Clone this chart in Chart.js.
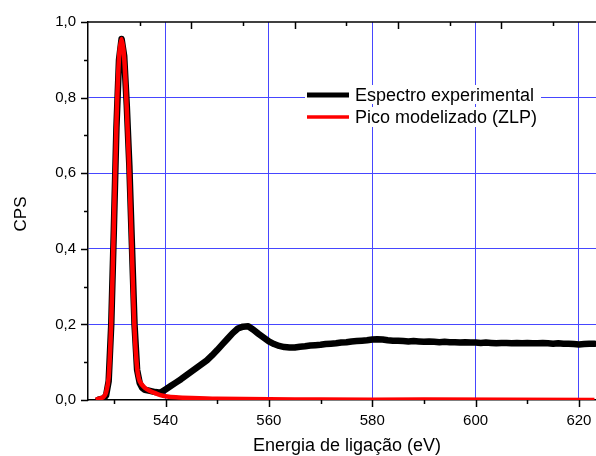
<!DOCTYPE html>
<html>
<head>
<meta charset="utf-8">
<script src="https://cdn.jsdelivr.net/npm/chart.js@4"></script>
<style>
  body { margin: 0; background: #fff; }
  #wrap { width: 596px; height: 456px; }
</style>
</head>
<body>
<div id="wrap"><canvas id="chart" width="596" height="456"></canvas></div>
<script>
// espectro experimental (eV, CPS)
let expEnergy = [527, 528, 528.5, 529, 529.5, 530, 530.5, 531, 531.5, 532, 532.5, 533, 533.5, 534, 534.5, 535, 535.5, 536, 537, 538, 539,
    540, 541, 542, 543, 544, 545, 546, 547, 548, 549, 550, 551, 552, 553, 554, 555, 556, 557, 558, 559,
    560, 561, 562, 563, 564, 565, 566, 567, 568, 569, 570, 571, 572, 573, 574, 575, 576, 577, 578, 579,
    580, 581, 582, 583, 584, 585, 586, 587, 588, 589, 590, 591, 592, 593, 594, 595, 596, 597, 598, 599,
    600, 601, 602, 603, 604, 605, 606, 607, 608, 609, 610, 611, 612, 613, 614, 615, 616, 617, 618, 619,
    620, 621, 622, 623];
let expCps = [0.001, 0.004, 0.012, 0.05, 0.20, 0.45, 0.72, 0.90, 0.955, 0.91, 0.78, 0.62, 0.41, 0.20, 0.08, 0.045, 0.032, 0.027, 0.024, 0.021, 0.019,
    0.028, 0.037, 0.046, 0.055, 0.065, 0.075, 0.085, 0.095, 0.105, 0.118, 0.132, 0.147, 0.162, 0.177, 0.189, 0.194, 0.195, 0.186, 0.175, 0.165,
    0.155, 0.148, 0.143, 0.140, 0.139, 0.139, 0.141, 0.142, 0.144, 0.145, 0.146, 0.148, 0.149, 0.150, 0.152, 0.153, 0.155, 0.156, 0.157, 0.158,
    0.160, 0.161, 0.160, 0.158, 0.157, 0.157, 0.156, 0.155, 0.156, 0.155, 0.154, 0.155, 0.154, 0.153, 0.154, 0.153, 0.153, 0.152, 0.153, 0.152,
    0.152, 0.151, 0.152, 0.151, 0.150, 0.151, 0.151, 0.150, 0.151, 0.150, 0.151, 0.150, 0.150, 0.151, 0.150, 0.149, 0.150, 0.149, 0.149, 0.148,
    0.147, 0.148, 0.149, 0.149];

// pico modelizado (ZLP)
let zlpEnergy = [526.5, 527, 528, 528.5, 529, 529.5, 530, 530.5, 531, 531.5, 532, 532.5, 533, 533.5, 534, 534.5, 535, 536, 537, 538, 539,
    540, 542, 545, 550, 560, 570, 590, 623];
let zlpCps = [0.001, 0.003, 0.008, 0.02, 0.06, 0.21, 0.46, 0.73, 0.905, 0.955, 0.905, 0.77, 0.60, 0.39, 0.19, 0.085, 0.05, 0.032, 0.024, 0.018, 0.013,
    0.010, 0.007, 0.005, 0.003, 0.002, 0.001, 0.001, 0];

let seriesLabels = ['Espectro experimental', 'Pico modelizado (ZLP)'];
let xTitle = 'Energia de ligação (eV)';
let yTitle = 'CPS';

Chart.defaults.font.family = 'Arial, "Liberation Sans", sans-serif';
Chart.defaults.color = '#000';

let gridBlue = '#4646ff';
let fontFam = 'Arial, "Liberation Sans", sans-serif';

function toPoints(xs, ys) {
    return xs.map(function (x, i) { return {x: x, y: ys[i]}; });
}

// ticks, top axis, legend and titles
let decor = {
    id: 'decor',
    afterDatasetsDraw: function (chart) {
        let c = chart.ctx, a = chart.chartArea;
        let sx = chart.scales.x, sy = chart.scales.y;
        c.save();
        c.strokeStyle = '#000';
        c.lineWidth = 1.5;
        c.beginPath();
        c.moveTo(a.left, a.top);
        c.lineTo(a.right, a.top);
        c.stroke();

        // y ticks (outward)
        for (let k = 0; k <= 10; k++) {
            let py = Math.round(sy.getPixelForValue(k / 10)) + 0.5;
            let len = k % 2 === 0 ? 7 : 4;
            c.beginPath();
            c.moveTo(a.left - len, py);
            c.lineTo(a.left, py);
            c.stroke();
        }
        // bottom ticks (outward)
        for (let v = 530; v <= 620; v += 10) {
            let px = Math.round(sx.getPixelForValue(v)) + 0.5;
            let len = v % 20 === 0 ? 7 : 4;
            c.beginPath();
            c.moveTo(px, a.bottom);
            c.lineTo(px, a.bottom + len);
            c.stroke();
        }
        // top ticks (inward, shifted by 5 eV)
        for (let v = 535; v <= 615; v += 10) {
            let px = Math.round(sx.getPixelForValue(v)) + 0.5;
            let len = (v - 5) % 20 === 0 ? 7 : 4;
            c.beginPath();
            c.moveTo(px, a.top);
            c.lineTo(px, a.top + len);
            c.stroke();
        }

        // legend
        c.fillStyle = '#fff';
        c.fillRect(305, 85, 236, 19);
        c.fillRect(305, 107, 250, 20);
        let ds = chart.data.datasets;
        let rows = [95, 117];
        c.font = '18px ' + fontFam;
        c.textBaseline = 'middle';
        c.textAlign = 'left';
        ds.forEach(function (d, i) {
            c.strokeStyle = d.borderColor;
            c.lineWidth = i === 0 ? 5 : 3.5;
            c.beginPath();
            c.moveTo(307, rows[i]);
            c.lineTo(349, rows[i]);
            c.stroke();
            c.fillStyle = '#000';
            c.fillText(d.label, 355, rows[i] + 1);
        });

        // axis titles
        c.font = '18px ' + fontFam;
        c.textAlign = 'center';
        c.fillText(xTitle, 347, 446);
        c.save();
        c.translate(21, 214);
        c.rotate(-Math.PI / 2);
        c.font = '17px ' + fontFam;
        c.fillText(yTitle, 0, 0);
        c.restore();
        c.restore();
    }
};

let ctx = document.getElementById('chart').getContext('2d');

new Chart(ctx, {
    type: 'line',
    data: {
        datasets: [
            {
                label: seriesLabels[0],
                data: toPoints(expEnergy, expCps),
                borderColor: '#000000',
                borderWidth: 6.5,
                pointRadius: 0,
                tension: 0,
                order: 1,
                borderJoinStyle: 'round',
                borderCapStyle: 'round'
            },
            {
                label: seriesLabels[1],
                data: toPoints(zlpEnergy, zlpCps),
                borderColor: '#ff0000',
                borderWidth: 4.5,
                pointRadius: 0,
                tension: 0.3,
                order: 0,
                borderJoinStyle: 'round'
            }
        ]
    },
    options: {
        responsive: false,
        animation: false,
        layout: {padding: {top: 22, right: 0, left: 0, bottom: 0}},
        plugins: {legend: {display: false}, tooltip: {enabled: false}},
        scales: {
            x: {
                type: 'linear',
                min: 525,
                max: 623.3,
                afterFit: function (s) { s.height = 56; s.paddingRight = 0; s.paddingLeft = 0; },
                border: {display: true, color: '#000', width: 1.5},
                grid: {
                    drawTicks: false,
                    color: function (c) { return c.tick && c.tick.value % 20 === 0 ? gridBlue : 'rgba(0,0,0,0)'; }
                },
                ticks: {
                    stepSize: 10,
                    includeBounds: false,
                    autoSkip: false,
                    maxRotation: 0,
                    padding: 12,
                    font: {size: 15},
                    callback: function (v) { return v % 20 === 0 ? String(v) : ''; }
                }
            },
            y: {
                min: 0,
                max: 1,
                afterFit: function (s) { s.width = 88; },
                border: {display: true, color: '#000', width: 1.5},
                grid: {
                    drawTicks: false,
                    color: function (c) {
                        let k = Math.round(c.tick.value * 10);
                        return (k % 2 === 0 && k > 0 && k < 10) ? gridBlue : 'rgba(0,0,0,0)';
                    }
                },
                ticks: {
                    stepSize: 0.1,
                    autoSkip: false,
                    padding: 12,
                    font: {size: 15},
                    callback: function (v) {
                        let k = Math.round(v * 10);
                        return k % 2 === 0 ? (k / 10).toFixed(1).replace('.', ',') : '';
                    }
                }
            }
        }
    },
    plugins: [decor]
});
</script>
</body>
</html>
